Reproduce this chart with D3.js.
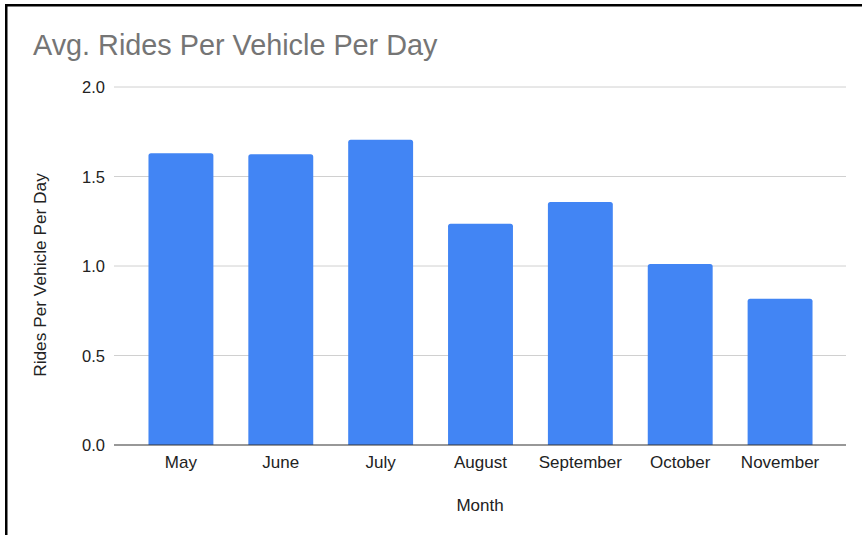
<!DOCTYPE html>
<html>
<head>
<meta charset="utf-8">
<script src="https://cdn.jsdelivr.net/npm/d3@7"></script>
<style>
  body { margin: 0; background: #fff; }
  svg { display: block; font-family: Arial, "Liberation Sans", sans-serif; }
</style>
</head>
<body>
<svg id="chart" width="862" height="535"></svg>
<script>
var months = ["May", "June", "July", "August", "September", "October", "November"];
var rides = [1.63, 1.625, 1.705, 1.236, 1.358, 1.011, 0.817];
var yTicks = [0, 0.5, 1, 1.5, 2];

(function () {
  var svg = d3.select("#chart");

  // frame lines (screenshot border)
  svg.append("rect").attr("x", 5).attr("y", 4).attr("width", 857).attr("height", 2.5).attr("fill", "#000");
  svg.append("rect").attr("x", 5).attr("y", 4).attr("width", 2.5).attr("height", 531).attr("fill", "#000");

  var left = 114, right = 846, plotTop = 87, bottom = 445;

  var x = d3.scaleBand()
      .domain(months)
      .range([131, 830])
      .paddingInner(0.35)
      .paddingOuter(0.175);

  var y = d3.scaleLinear()
      .domain([0, 2])
      .range([bottom, plotTop]);

  // gridlines
  svg.append("g")
      .selectAll("line")
      .data(yTicks.slice(1))
      .enter().append("line")
      .attr("x1", left).attr("x2", right)
      .attr("y1", function(d) { return y(d); })
      .attr("y2", function(d) { return y(d); })
      .attr("stroke", "#d0d0d0")
      .attr("stroke-width", 1);

  // y tick labels
  svg.append("g")
      .selectAll("text")
      .data(yTicks)
      .enter().append("text")
      .attr("x", 105)
      .attr("y", function(d) { return y(d) + 6; })
      .attr("text-anchor", "end")
      .attr("font-size", 16.5)
      .attr("fill", "#222")
      .text(d3.format(".1f"));

  // bars, rounded top corners
  svg.append("g")
      .selectAll("path")
      .data(months)
      .enter().append("path")
      .attr("fill", "#4285f4")
      .attr("d", function(d, i) {
        var x0 = x(d), w = x.bandwidth(), y0 = y(rides[i]), r = 2.5;
        return "M" + x0 + "," + bottom +
          "V" + (y0 + r) +
          "Q" + x0 + "," + y0 + " " + (x0 + r) + "," + y0 +
          "H" + (x0 + w - r) +
          "Q" + (x0 + w) + "," + y0 + " " + (x0 + w) + "," + (y0 + r) +
          "V" + bottom + "Z";
      });

  // baseline
  svg.append("line")
      .attr("x1", left).attr("x2", right)
      .attr("y1", bottom).attr("y2", bottom)
      .attr("stroke", "#333")
      .attr("stroke-width", 1.2);

  // x labels
  svg.append("g")
      .selectAll("text")
      .data(months)
      .enter().append("text")
      .attr("x", function(d) { return x(d) + x.bandwidth() / 2; })
      .attr("y", 468)
      .attr("text-anchor", "middle")
      .attr("font-size", 17)
      .attr("fill", "#222")
      .text(function(d) { return d; });

  // titles
  svg.append("text")
      .attr("x", 33).attr("y", 55)
      .attr("font-size", 28.8)
      .attr("fill", "#757575")
      .text("Avg. Rides Per Vehicle Per Day");

  svg.append("text")
      .attr("transform", "translate(46,275) rotate(-90)")
      .attr("text-anchor", "middle")
      .attr("font-size", 17.3)
      .attr("fill", "#222")
      .text("Rides Per Vehicle Per Day");

  svg.append("text")
      .attr("x", 480).attr("y", 511)
      .attr("text-anchor", "middle")
      .attr("font-size", 17)
      .attr("fill", "#222")
      .text("Month");
})();
</script>
</body>
</html>
